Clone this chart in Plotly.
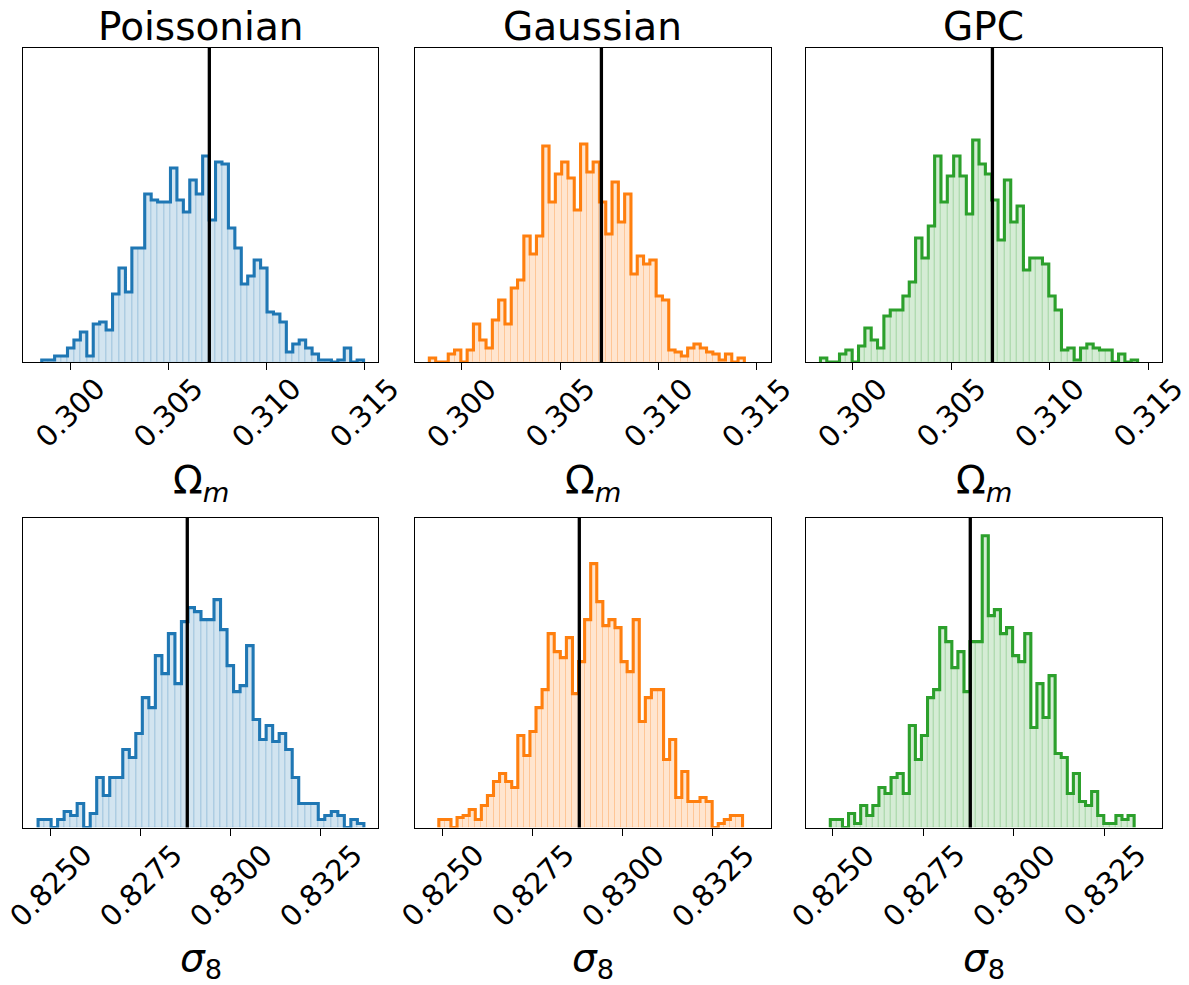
import plotly.graph_objects as go

# ---- posterior samples binned into 50 bins per panel ----
methods = ["Poissonian", "Gaussian", "GPC"]
line_colors = ["#1f77b4", "#ff7f0e", "#2ca02c"]
fill_colors = ["rgba(31,119,180,0.2)", "rgba(255,127,14,0.2)", "rgba(44,160,44,0.2)"]
seam_colors = ["rgba(31,119,180,0.16)", "rgba(255,127,14,0.16)", "rgba(44,160,44,0.16)"]

# Omega_m histograms: bin range (lo, hi) and counts
poisson_om_range = (0.29856, 0.31496)
poisson_om_counts = [1, 1, 3, 3, 7, 11, 15, 3, 19, 20, 16, 34, 47, 35, 57, 57, 84, 81, 80, 80,
                     97, 81, 75, 91, 84, 103, 71, 100, 99, 67, 57, 39, 43, 51, 47, 25, 24, 20, 5, 9,
                     11, 7, 4, 1, 1, 0, 1, 7, 0, 1]
gauss_om_range = (0.29835, 0.31437)
gauss_om_counts = [2, 0, 0, 4, 6, 0, 6, 19, 11, 7, 21, 31, 19, 37, 41, 63, 54, 63, 108, 80,
                   94, 100, 92, 76, 109, 95, 100, 80, 64, 90, 70, 84, 44, 53, 49, 51, 33, 31, 6, 5,
                   3, 7, 9, 7, 5, 4, 1, 4, 0, 2]
gpc_om_range = (0.29837, 0.31447)
gpc_om_counts = [2, 0, 0, 4, 6, 0, 8, 17, 11, 7, 23, 26, 26, 33, 40, 62, 52, 68, 103, 80,
                 93, 103, 93, 74, 111, 99, 94, 81, 61, 91, 70, 78, 46, 52, 52, 49, 33, 26, 6, 7,
                 1, 7, 9, 7, 6, 6, 0, 4, 0, 1]

# sigma_8 histograms
poisson_s8_range = (0.82466, 0.83370)
poisson_s8_counts = [4, 4, 0, 4, 8, 6, 12, 0, 7, 25, 16, 25, 25, 39, 35, 47, 65, 60, 86, 77,
                     97, 72, 103, 110, 108, 104, 104, 114, 99, 81, 68, 71, 91, 54, 44, 51, 43, 47, 39, 25,
                     12, 12, 12, 4, 6, 8, 6, 0, 4, 2]
gauss_s8_range = (0.82491, 0.83332)
gauss_s8_counts = [4, 4, 0, 5, 6, 9, 4, 11, 16, 23, 27, 23, 20, 46, 36, 48, 60, 69, 97, 88,
                   85, 95, 67, 83, 104, 132, 113, 101, 104, 100, 83, 78, 104, 53, 65, 69, 69, 34, 44, 15,
                   28, 13, 13, 15, 13, 0, 2, 4, 6, 6]
gpc_s8_range = (0.82493, 0.83333)
gpc_s8_counts = [4, 4, 0, 7, 2, 11, 6, 11, 20, 17, 25, 27, 17, 51, 34, 46, 65, 69, 100, 93,
                 80, 88, 68, 93, 93, 146, 106, 109, 97, 100, 86, 83, 97, 50, 72, 55, 76, 37, 35, 17,
                 27, 13, 11, 18, 6, 2, 2, 6, 4, 6]

# fiducial parameter values
om_true = 0.3071
s8_true = 0.8288

om_ticks = [0.300, 0.305, 0.310, 0.315]
om_ticktext = ["0.300", "0.305", "0.310", "0.315"]
s8_ticks = [0.8250, 0.8275, 0.8300, 0.8325]
s8_ticktext = ["0.8250", "0.8275", "0.8300", "0.8325"]

om_xrange = [0.29762, 0.31571]
s8_xrange = [0.82425, 0.83410]

rows = [
    dict(ranges=[poisson_om_range, gauss_om_range, gpc_om_range],
         counts=[poisson_om_counts, gauss_om_counts, gpc_om_counts],
         truth=om_true, ticks=om_ticks, ticktext=om_ticktext, xrange=om_xrange,
         ymax=157, label="Ω<sub><i>m</i></sub>"),
    dict(ranges=[poisson_s8_range, gauss_s8_range, gpc_s8_range],
         counts=[poisson_s8_counts, gauss_s8_counts, gpc_s8_counts],
         truth=s8_true, ticks=s8_ticks, ticktext=s8_ticktext, xrange=s8_xrange,
         ymax=155, label="<i>σ</i><sub>8</sub>"),
]

# ---- page geometry (pixels) ----
W, H = 1189, 985
col_px = [(23.3, 378.3), (415.0, 770.7), (805.7, 1162.0)]
row_px = [(48.0, 362.0), (517.7, 827.5)]
ticklabel_y = [413.0, 885.5]
axlabel_y = [483.0, 960.0]
title_y = 26.0
FONT = "DejaVu Sans"

fig = go.Figure()
annotations = []
shapes = []
layout_axes = {}

for r, row in enumerate(rows):
    for c in range(3):
        k = r * 3 + c + 1
        sfx = "" if k == 1 else str(k)
        lo, hi = row["ranges"][c]
        counts = row["counts"][c]
        n = len(counts)
        bw = (hi - lo) / n
        edges = [lo + i * bw for i in range(n + 1)]
        centers = [lo + (i + 0.5) * bw for i in range(n)]

        # filled bars
        fig.add_trace(go.Bar(
            x=centers, y=counts, width=bw,
            marker=dict(color=fill_colors[c], line=dict(color=seam_colors[c], width=1)),
            xaxis="x" + sfx, yaxis="y" + sfx, showlegend=False, hoverinfo="skip",
        ))
        # step outline
        fig.add_trace(go.Scatter(
            x=[edges[0]] + edges[:-1] + [edges[-1]],
            y=[0] + counts + [0],
            mode="lines", line=dict(color=line_colors[c], width=3.1, shape="hv"),
            xaxis="x" + sfx, yaxis="y" + sfx, showlegend=False, hoverinfo="skip",
        ))
        # fiducial value
        shapes.append(dict(type="line", xref="x" + sfx, yref="y" + sfx + " domain",
                           x0=row["truth"], x1=row["truth"], y0=0, y1=1,
                           line=dict(color="black", width=3.3), layer="above"))

        x0, x1 = col_px[c]
        y0, y1 = row_px[r]
        layout_axes["xaxis" + sfx] = dict(
            domain=[x0 / W, x1 / W], range=row["xrange"], anchor="y" + sfx,
            tickvals=row["ticks"], showticklabels=False, ticks="outside",
            ticklen=7, tickwidth=1.1, tickcolor="black",
            showline=True, linecolor="black", linewidth=1.1, mirror=True,
            showgrid=False, zeroline=False, fixedrange=True,
        )
        layout_axes["yaxis" + sfx] = dict(
            domain=[1 - y1 / H, 1 - y0 / H], range=[0, row["ymax"]], anchor="x" + sfx,
            showticklabels=False, ticks="", showline=True, linecolor="black",
            linewidth=1.1, mirror=True, showgrid=False, zeroline=False, fixedrange=True,
        )

        # rotated tick labels centred under each tick
        for tv, tt in zip(row["ticks"], row["ticktext"]):
            annotations.append(dict(
                x=tv, xref="x" + sfx, y=1 - ticklabel_y[r] / H, yref="paper",
                text=tt, textangle=-45, showarrow=False,
                xanchor="center", yanchor="middle",
                font=dict(family=FONT, size=29, color="black"),
            ))
        # axis label
        annotations.append(dict(
            x=(x0 + x1) / 2 / W, xref="paper", y=1 - axlabel_y[r] / H, yref="paper",
            text=row["label"], showarrow=False, xanchor="center", yanchor="middle",
            font=dict(family=FONT, size=39, color="black"),
        ))
        # column titles
        if r == 0:
            annotations.append(dict(
                x=(x0 + x1) / 2 / W, xref="paper", y=1 - title_y / H, yref="paper",
                text=methods[c], showarrow=False, xanchor="center", yanchor="middle",
                font=dict(family=FONT, size=39, color="black"),
            ))

fig.update_layout(
    width=W, height=H, margin=dict(l=0, r=0, t=0, b=0),
    paper_bgcolor="white", plot_bgcolor="white",
    barmode="overlay", bargap=0, showlegend=False,
    annotations=annotations, shapes=shapes,
    font=dict(family=FONT, color="black"),
    **layout_axes,
)

fig.write_html("out.html")
